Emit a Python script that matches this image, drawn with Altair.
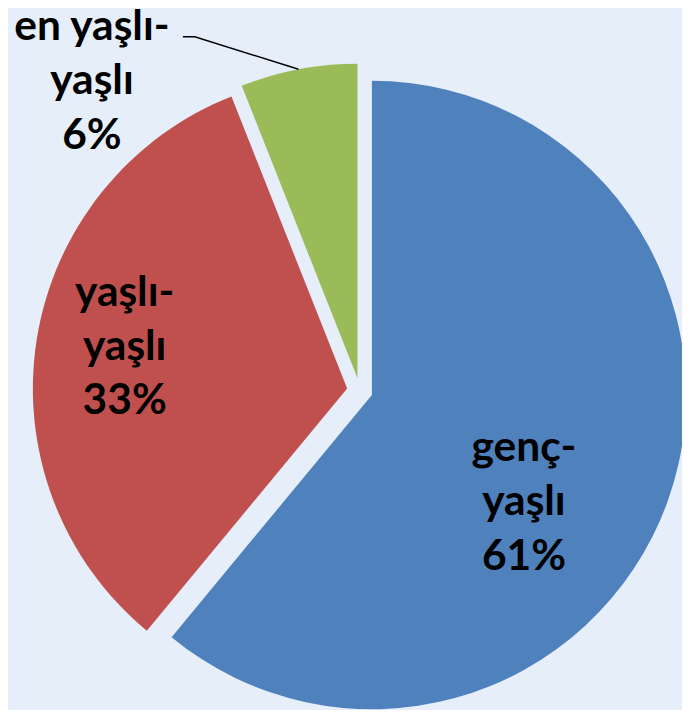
import altair as alt
import numpy as np
import pandas as pd

# ---- data ----
categories = ["genç-yaşlı", "yaşlı-yaşlı", "en yaşlı-yaşlı"]
values = [61, 33, 6]
label_lines = ["genç-\nyaşlı\n61%", "yaşlı-\nyaşlı\n33%", "en yaşlı-\nyaşlı\n6%"]
colors = ["#4f81bd", "#c0504d", "#9bbb59"]

# ---- layout (pixels, chart coordinates) ----
W, H = 682, 702
CX, CY = 356, 383          # pie centre
R = 318                    # outer radius
EXPLODE = 13               # explosion distance
LINE_H = 55
# label position (middle line) relative to pie centre (polar: degrees clockwise from top, radius)
label_polar = [(124.3, 201), (280.5, 242), (319.1, 414)]

vals = np.array(values, dtype=float)
cum = np.cumsum(vals)
start = (cum - vals) / vals.sum() * 2 * np.pi
end = cum / vals.sum() * 2 * np.pi
mid = (start + end) / 2

df = pd.DataFrame({
    "cat": categories,
    "value": values,
    "idx": list(range(len(values))),
    "label": label_lines,
    "cx": CX + EXPLODE * np.sin(mid),
    "cy": CY - EXPLODE * np.cos(mid),
})
ang = np.radians([a for a, _ in label_polar])
rad = np.array([r for _, r in label_polar])
df["lx"] = CX + rad * np.sin(ang)
df["ly"] = CY - rad * np.cos(ang) - LINE_H   # first line sits one line above the middle

# leader line for the small slice
g = 2
ex = df["cx"][g] + R * np.sin(mid[g])
ey = df["cy"][g] - R * np.cos(mid[g])
leader = pd.DataFrame({
    "x": [ex - 117, ex - 105, ex],
    "y": [ey - 33, ey - 33, ey],
    "o": [0, 1, 2],
})

arcs = alt.Chart(df).mark_arc(outerRadius=R, stroke=None).encode(
    theta=alt.Theta("value:Q", stack=True),
    order=alt.Order("idx:Q"),
    color=alt.Color("cat:N", scale=alt.Scale(domain=categories, range=colors), legend=None),
    x=alt.X("cx:Q", scale=None),
    y=alt.Y("cy:Q", scale=None),
)

labels = alt.Chart(df).mark_text(
    font="Lato", fontWeight="bold", fontSize=43, lineBreak="\n", lineHeight=LINE_H,
    align="center", baseline="middle", color="black",
).encode(
    x=alt.X("lx:Q", scale=None),
    y=alt.Y("ly:Q", scale=None),
    text="label:N",
)

line = alt.Chart(leader).mark_line(color="black", strokeWidth=1.5).encode(
    x=alt.X("x:Q", scale=None),
    y=alt.Y("y:Q", scale=None),
    order="o:Q",
)

chart = alt.layer(arcs, line, labels).properties(
    width=W, height=H, padding=0, autosize=alt.AutoSizeParams(type="none"),
    background="#e6eefa",
).configure_view(stroke=None)

chart.save("out.html", embed_options={"renderer": "svg", "actions": False})
